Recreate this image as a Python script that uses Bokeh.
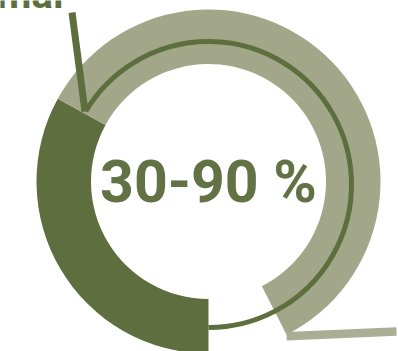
import math
from bokeh.plotting import figure
from bokeh.models import Range1d
from bokeh.core.properties import value
from bokeh.embed import file_html
from bokeh.resources import INLINE

# data
categories = ["normal", "other", "gap"]
shares = [33.0, 59.5, 7.5]          # percent of the full circle
center_label = "30-90 %"
pointer_label = "normal"

DARK = "#5f6e3f"
LIGHT = "#a2a78a"
BAR = "#a9ae94"

W, H = 398, 351
p = figure(width=W, height=H, output_backend="svg", toolbar_location=None,
           x_range=Range1d(0, W), y_range=Range1d(0, H), min_border=0)
p.axis.visible = False
p.grid.visible = False
p.outline_line_color = None
p.background_fill_color = "white"
p.border_fill_color = "white"

def Y(py):
    return H - py

cx, cy = 208, Y(181)
r_in, r_out = 117.5, 172

# wedges, going clockwise from 6 o'clock
start = 270.0
angles = []
for s in shares:
    span = s / 100.0 * 360.0
    angles.append((start - span, start))
    start -= span

colors = [DARK, LIGHT, None]
for (a0, a1), c in zip(angles, colors):
    if c is None:
        continue
    p.annular_wedge(x=cx, y=cy, inner_radius=r_in, outer_radius=r_out,
                    start_angle=math.radians(a0), end_angle=math.radians(a1),
                    fill_color=c, line_color=None)

# thin inner arc from pointer tip to bottom of dark wedge
acx, acy, ar = 208, Y(184), 143
p.arc(x=acx, y=acy, radius=ar, start_angle=math.radians(-90),
      end_angle=math.radians(angles[0][0] - 2), line_color=DARK, line_width=5)

# pointer line
p.segment(x0=71.5, y0=Y(12), x1=84.5, y1=Y(111), line_color=DARK, line_width=7)

# bottom bar from the end of the light wedge
end_a = math.radians(angles[1][0])
bx0 = cx + r_out * math.cos(end_a)
by0 = cy + r_out * math.sin(end_a)
p.segment(x0=bx0, y0=by0 - 1.5, x1=396, y1=Y(331), line_color=BAR, line_width=8.5)

# texts
p.text(x=[208], y=[Y(181)], text=[center_label], text_align="center",
       text_baseline="alphabetic", text_font=value("Roboto"),
       text_font_style="bold", text_font_size="59px", text_color="#627244")
p.text(x=[63], y=[Y(-6)], text=[pointer_label], text_align="right",
       text_baseline="alphabetic", text_font=value("Roboto"),
       text_font_style="bold", text_font_size="40px", text_color=DARK)

open("out.html", "w").write(file_html(p, INLINE))
